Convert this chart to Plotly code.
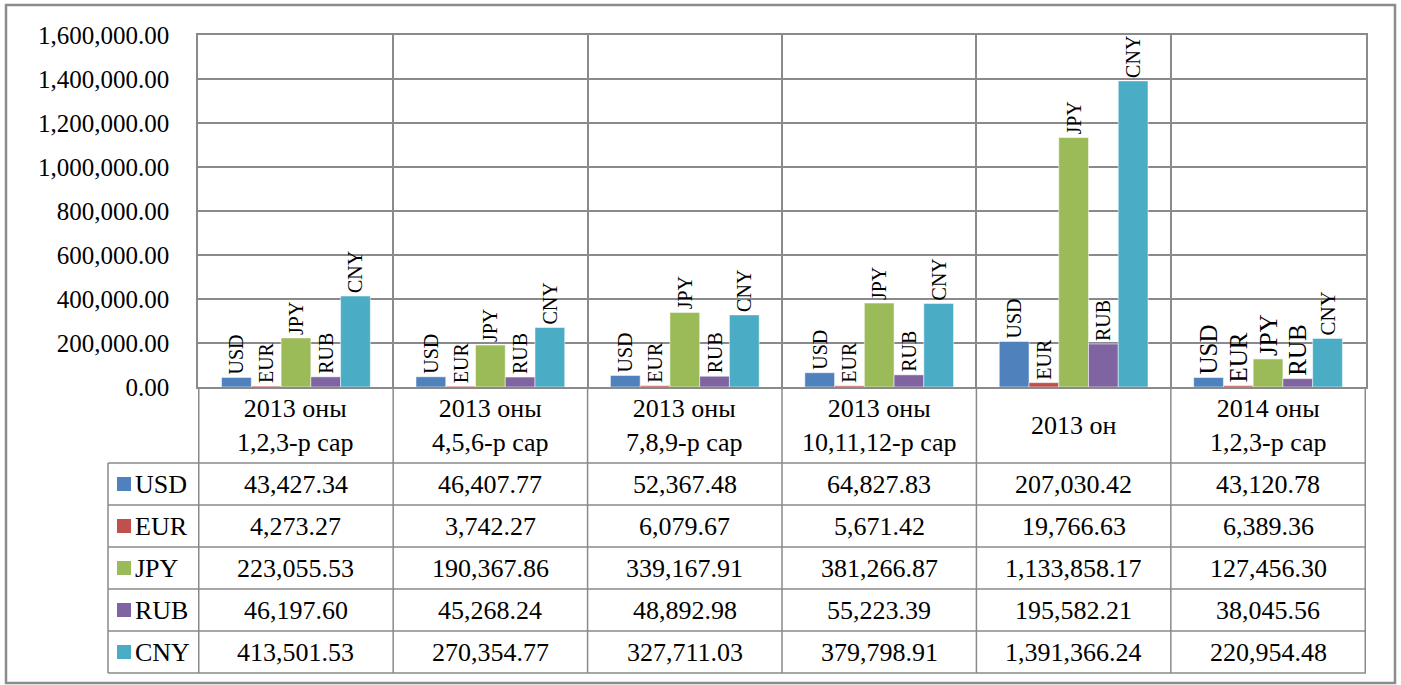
import plotly.graph_objects as go

# ---------------- data ----------------
categories = ["2013 оны<br>1,2,3-р сар", "2013 оны<br>4,5,6-р сар", "2013 оны<br>7,8,9-р сар",
              "2013 оны<br>10,11,12-р сар", "2013 он", "2014 оны<br>1,2,3-р сар"]
series_names = ["USD", "EUR", "JPY", "RUB", "CNY"]
usd = [43427.34, 46407.77, 52367.48, 64827.83, 207030.42, 43120.78]
eur = [4273.27, 3742.27, 6079.67, 5671.42, 19766.63, 6389.36]
jpy = [223055.53, 190367.86, 339167.91, 381266.87, 1133858.17, 127456.30]
rub = [46197.60, 45268.24, 48892.98, 55223.39, 195582.21, 38045.56]
cny = [413501.53, 270354.77, 327711.03, 379798.91, 1391366.24, 220954.48]
y_ticks = [0, 200000, 400000, 600000, 800000, 1000000, 1200000, 1400000, 1600000]

# ---------------- styles ----------------
colors = ["#4F81BD", "#C0504D", "#9BBB59", "#8064A2", "#4BACC6"]
label_sizes = {
    "USD": [20, 20, 20, 20, 20, 25],
    "EUR": [20, 20, 20, 20, 20, 25],
    "JPY": [20, 20, 20, 20, 20, 25],
    "RUB": [20, 20, 20, 20, 20, 25],
    "CNY": [20, 20, 20, 20, 20, 21],
}
GRID = "#8A8A8A"
FONT = "Liberation Serif"
TABLE_FS = 26
W, H = 1401, 685
PLOT_L, PLOT_R, PLOT_T, PLOT_B = 198, 1366, 35, 387
TAB_L, HEAD_B, ROW_H = 108, 463, 42


def px(x):
    return x / W


def py(y):
    return (H - y) / H


all_series = [usd, eur, jpy, rub, cny]
fig = go.Figure()
for name, vals, col in zip(series_names, all_series, colors):
    fig.add_trace(go.Bar(
        x=categories, y=vals, name=name,
        marker=dict(color=col, line=dict(color="rgba(255,255,255,0.5)", width=1)),
        text=[name] * len(vals), textposition="outside", textangle=-90,
        textfont=dict(family=FONT, size=label_sizes[name], color="black"),
        constraintext="none", cliponaxis=False, showlegend=False,
        hoverinfo="x+y+name",
    ))

shapes = []
annotations = []
n_rows = len(series_names)
tab_bottom = HEAD_B + ROW_H * n_rows

# header row (category names)
for c in categories:
    annotations.append(dict(xref="x", yref="paper", x=c, y=py((PLOT_B + HEAD_B) / 2 + 1),
                            text=c, showarrow=False, yanchor="middle",
                            font=dict(family=FONT, size=TABLE_FS, color="black")))

# data rows
for r, (name, vals, col) in enumerate(zip(series_names, all_series, colors)):
    yc = HEAD_B + ROW_H * r + ROW_H / 2
    for c, v in zip(categories, vals):
        annotations.append(dict(xref="x", yref="paper", x=c, y=py(yc),
                                text=f"{v:,.2f}", showarrow=False, yanchor="middle",
                                font=dict(family=FONT, size=TABLE_FS, color="black")))
    annotations.append(dict(xref="paper", yref="paper", x=px(133), y=py(yc),
                            text=name, showarrow=False, xanchor="left", yanchor="middle",
                            font=dict(family=FONT, size=TABLE_FS, color="black")))
    shapes.append(dict(type="rect", xref="paper", yref="paper",
                       x0=px(117), x1=px(131), y0=py(yc + 7), y1=py(yc - 7),
                       fillcolor=col, line=dict(width=0)))

# table grid lines
for r in range(n_rows + 1):
    yy = HEAD_B + ROW_H * r
    shapes.append(dict(type="line", xref="paper", yref="paper", x0=px(TAB_L), x1=px(PLOT_R),
                       y0=py(yy), y1=py(yy), line=dict(color=GRID, width=1.5)))
shapes.append(dict(type="line", xref="paper", yref="paper", x0=px(TAB_L), x1=px(TAB_L),
                   y0=py(HEAD_B), y1=py(tab_bottom), line=dict(color=GRID, width=1.5)))
for i in range(len(categories) + 1):
    shapes.append(dict(type="line", xref="x", yref="paper", x0=i - 0.5, x1=i - 0.5,
                       y0=py(PLOT_B), y1=py(tab_bottom), line=dict(color=GRID, width=1.5)))

# outer frame
shapes.append(dict(type="rect", xref="paper", yref="paper",
                   x0=px(6), x1=px(1395), y0=py(683), y1=py(5),
                   line=dict(color="#8C8C8C", width=2.5), layer="below"))

fig.update_layout(
    width=W, height=H, margin=dict(l=0, r=0, t=0, b=0, pad=0, autoexpand=False),
    paper_bgcolor="white", plot_bgcolor="white",
    barmode="group", bargap=0.235, bargroupgap=0,
    font=dict(family=FONT, size=24, color="black"),
    xaxis=dict(domain=[px(PLOT_L), px(PLOT_R)], showticklabels=False, tickson="boundaries",
               showgrid=True, gridcolor=GRID, gridwidth=1.5, ticks="", automargin=False,
               showline=True, mirror=True, linecolor=GRID, linewidth=1.5),
    yaxis=dict(domain=[py(PLOT_B), py(PLOT_T)], range=[0, 1600000], automargin=False,
               tickvals=y_ticks, tickformat=",.2f", ticks="", ticklabelstandoff=22,
               tickfont=dict(family=FONT, size=25, color="black"),
               showgrid=True, gridcolor=GRID, gridwidth=1.5, zeroline=False,
               showline=True, mirror=True, linecolor=GRID, linewidth=1.5),
    shapes=shapes,
    annotations=annotations,
)

post = ("document.documentElement.style.margin='0';document.body.style.margin='0';"
        "document.body.style.padding='0';"
        "var d=document.getElementById('{plot_id}');"
        "d.parentElement.style.fontSize='0';d.parentElement.style.lineHeight='0';"
        "document.documentElement.style.overflow='hidden';")
fig.write_html("out.html", post_script=post, config={"displayModeBar": False})
